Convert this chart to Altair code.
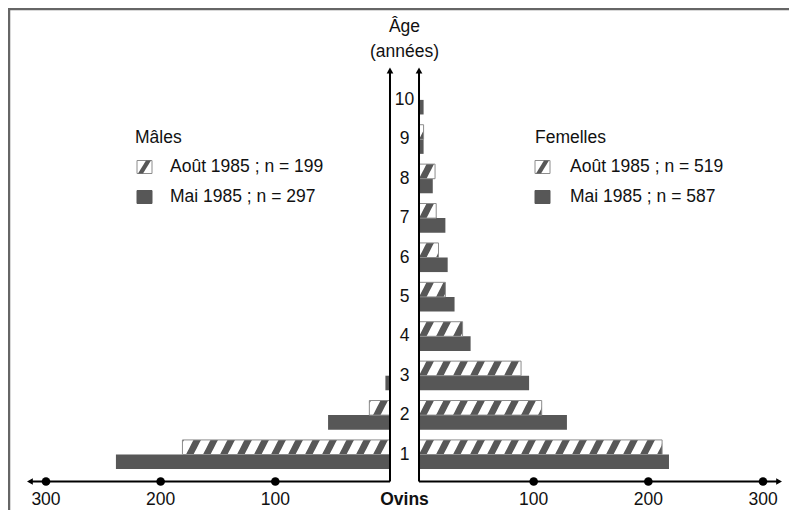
import altair as alt
import numpy as np
import pandas as pd

# ---------------- data ----------------
ages = [1, 2, 3, 4, 5, 6, 7, 8, 9, 10]
male_aout = [181, 18, 0, 0, 0, 0, 0, 0, 0, 0]
male_mai = [239, 54, 4, 0, 0, 0, 0, 0, 0, 0]
female_aout = [212, 107, 89, 38, 23, 17, 15, 14, 4, 0]
female_mai = [218, 129, 96, 45, 31, 25, 23, 12, 4, 4]
tick_values = [100, 200, 300]
side_titles = ["Mâles", "Femelles"]
legend_male = ["Août 1985 ; n = 199", "Mai 1985 ; n = 297"]
legend_female = ["Août 1985 ; n = 519", "Mai 1985 ; n = 587"]
axis_title = ["Âge", "(années)"]
x_title = "Ovins"

# ---------------- layout / style ----------------
W, H = 781, 502
KX = 1.1467      # px per sheep
KY = 39.4        # px per age step
X0 = 396.5       # svg px of centre line
Y1 = 446.5       # svg px of age 1
GAP = 12.65      # half gap between the two vertical axes (sheep units)
BAR_H = 0.37     # bar thickness (age units)
AX_END = 314     # length of the horizontal axes (sheep units)
Y_AXIS = 1 + (Y1 - 473.5) / KY
Y_ARROW = 1 + (Y1 - 62.5) / KY
Y_LAB = 1 + (Y1 - 496.5) / KY

XMIN = -X0 / KX
XMAX = (W - X0) / KX
YMAX = 1 + Y1 / KY
YMIN = 1 - (H - Y1) / KY

DARK = "#575757"
FONT = "Liberation Sans"

xs = alt.Scale(domain=[XMIN, XMAX], nice=False, zero=False)
ys = alt.Scale(domain=[YMIN, YMAX], nice=False, zero=False)

# ---------------- bars ----------------
bar_rows = []
for side, aout, mai in (("m", male_aout, male_mai), ("f", female_aout, female_mai)):
    sgn = -1 if side == "m" else 1
    for a, va, vm in zip(ages, aout, mai):
        for ser, v, y0, y1 in (("aout", va, a, a + BAR_H), ("mai", vm, a - BAR_H, a)):
            if v > 0:
                bar_rows.append(dict(side=side, age=a, serie=ser, value=v,
                                     x0=sgn * GAP, x1=sgn * (GAP + v), y0=y0, y1=y1))
bars = pd.DataFrame(bar_rows)

# hatch stripes derived from the Août bars
P_u = 17 / KX
W_u = 7.5 / KX
S_u = 7.5 / KX
stripe_rows = []
sid = 0
for r in bar_rows:
    if r["serie"] != "aout":
        continue
    lo, hi = min(r["x0"], r["x1"]), max(r["x0"], r["x1"])
    anchor = lo if r["side"] == "f" else hi
    kmin = int(np.floor((lo - S_u - W_u - anchor) / P_u))
    kmax = int(np.ceil((hi - anchor) / P_u))
    for k in range(kmin, kmax + 1):
        b = anchor + k * P_u
        if b + W_u + S_u < lo or b > hi:
            continue
        for t in np.linspace(0, 1, 6):
            xa = min(max(b + S_u * t, lo), hi)
            xb = min(max(b + W_u + S_u * t, lo), hi)
            stripe_rows.append(dict(sid=sid, y=r["y0"] + BAR_H * t, xa=xa, xb=xb))
        sid += 1
stripes = pd.DataFrame(stripe_rows)

base = alt.Chart(bars)

mai_layer = base.transform_filter("datum.serie == 'mai'").mark_rect(color=DARK).encode(
    x=alt.X("x0:Q", scale=xs, axis=None), x2="x1:Q",
    y=alt.Y("y0:Q", scale=ys, axis=None), y2="y1:Q")

aout_fill = base.transform_filter("datum.serie == 'aout'").mark_rect(fill="white").encode(
    x=alt.X("x0:Q", scale=xs, axis=None), x2="x1:Q",
    y=alt.Y("y0:Q", scale=ys, axis=None), y2="y1:Q")

stripe_layer = alt.Chart(stripes).mark_area(orient="horizontal", color=DARK, opacity=1).encode(
    y=alt.Y("y:Q", scale=ys, axis=None),
    x=alt.X("xa:Q", scale=xs, axis=None, stack=None), x2="xb:Q",
    detail="sid:N")

aout_edge = base.transform_filter("datum.serie == 'aout'").mark_rect(
    fill="white", fillOpacity=0, stroke="#8c8c8c", strokeWidth=1).encode(
    x=alt.X("x0:Q", scale=xs, axis=None), x2="x1:Q",
    y=alt.Y("y0:Q", scale=ys, axis=None), y2="y1:Q")

# ---------------- axes ----------------
vlines = pd.DataFrame({"x": [-GAP, GAP], "y0": [Y_AXIS] * 2, "y1": [Y_ARROW] * 2})
vline_layer = alt.Chart(vlines).mark_rule(color="black", strokeWidth=2).encode(
    x=alt.X("x:Q", scale=xs, axis=None),
    y=alt.Y("y0:Q", scale=ys, axis=None), y2="y1:Q")

hlines = pd.DataFrame({"x0": [-GAP, GAP], "x1": [-(GAP + AX_END), GAP + AX_END], "y": [Y_AXIS] * 2})
hline_layer = alt.Chart(hlines).mark_rule(color="black", strokeWidth=2).encode(
    x=alt.X("x0:Q", scale=xs, axis=None), x2="x1:Q",
    y=alt.Y("y:Q", scale=ys, axis=None))

arrows = pd.DataFrame({
    "x": [-GAP, GAP, -(GAP + AX_END), GAP + AX_END],
    "y": [Y_ARROW, Y_ARROW, Y_AXIS, Y_AXIS],
    "shape": ["triangle-up", "triangle-up", "triangle-left", "triangle-right"]})
arrow_layer = alt.Chart(arrows).mark_point(filled=True, color="black", size=45, opacity=1).encode(
    x=alt.X("x:Q", scale=xs, axis=None), y=alt.Y("y:Q", scale=ys, axis=None),
    shape=alt.Shape("shape:N", scale=None))

dots = pd.DataFrame({
    "x": [-(GAP + v) for v in tick_values] + [GAP + v for v in tick_values],
    "y": [Y_AXIS] * 6,
    "label": [str(v) for v in tick_values] * 2})
dot_layer = alt.Chart(dots).mark_point(filled=True, color="black", shape="circle", size=75, opacity=1).encode(
    x=alt.X("x:Q", scale=xs, axis=None), y=alt.Y("y:Q", scale=ys, axis=None))

tick_text = alt.Chart(dots.assign(y=Y_LAB)).mark_text(
    font=FONT, fontSize=17.5, color="#111", baseline="alphabetic", align="center").encode(
    x=alt.X("x:Q", scale=xs, axis=None), y=alt.Y("y:Q", scale=ys, axis=None), text="label:N")

ovins = alt.Chart(pd.DataFrame({"x": [0], "y": [Y_LAB], "t": [x_title]})).mark_text(
    font=FONT, fontSize=17.5, fontWeight="bold", color="#111", baseline="alphabetic", align="center").encode(
    x=alt.X("x:Q", scale=xs, axis=None), y=alt.Y("y:Q", scale=ys, axis=None), text="t:N")

age_text = alt.Chart(pd.DataFrame({"x": [0] * len(ages), "y": ages, "t": [str(a) for a in ages]})).mark_text(
    font=FONT, fontSize=17.5, color="#111", baseline="middle", align="center").encode(
    x=alt.X("x:Q", scale=xs, axis=None), y=alt.Y("y:Q", scale=ys, axis=None), text="t:N")

# ---------------- annotations (pixel positions) ----------------
titles = pd.DataFrame({"px": [X0, X0], "py": [24, 49], "t": axis_title})
title_layer = alt.Chart(titles).mark_text(
    font=FONT, fontSize=17.5, color="#111", baseline="alphabetic", align="center").encode(
    x=alt.X("px:Q", scale=None), y=alt.Y("py:Q", scale=None), text="t:N")

leg_text = pd.DataFrame({
    "px": [127, 162, 162, 527, 562, 562],
    "py": [130, 159, 189, 130, 159, 189],
    "t": [side_titles[0]] + legend_male + [side_titles[1]] + legend_female})
leg_text_layer = alt.Chart(leg_text).mark_text(
    font=FONT, fontSize=17.5, color="#111", baseline="middle", align="left").encode(
    x=alt.X("px:Q", scale=None), y=alt.Y("py:Q", scale=None), text="t:N")

sw = pd.DataFrame({
    "x0": [129, 129, 527, 527], "x1": [144, 144, 542, 542],
    "y0": [152.5, 182.5, 152.5, 182.5], "y1": [165.5, 195.5, 165.5, 195.5],
    "kind": ["aout", "mai", "aout", "mai"]})
sw_layer = alt.Chart(sw).mark_rect(strokeWidth=1).encode(
    x=alt.X("x0:Q", scale=None), x2="x1:Q", y=alt.Y("y0:Q", scale=None), y2="y1:Q",
    fill=alt.Fill("kind:N", scale=alt.Scale(domain=["aout", "mai"], range=["white", DARK]), legend=None),
    stroke=alt.Stroke("kind:N", scale=alt.Scale(domain=["aout", "mai"], range=["#8c8c8c", DARK]), legend=None))

sw_stripe_rows = []
for i, x0 in enumerate([129, 527]):
    for t in np.linspace(0, 1, 2):
        yy = 165.5 - 13 * t
        sw_stripe_rows.append(dict(sid=i, py=yy, xa=x0 + 1 + 8 * t, xb=x0 + 6 + 8 * t))
sw_stripe = alt.Chart(pd.DataFrame(sw_stripe_rows)).mark_area(orient="horizontal", color=DARK, opacity=1).encode(
    y=alt.Y("py:Q", scale=None), x=alt.X("xa:Q", scale=None, stack=None), x2="xb:Q", detail="sid:N")

frame = pd.DataFrame({"x0": [0, 1], "x1": [W, 1], "y0": [1, 0], "y1": [1, H]})
frame_layer = alt.Chart(frame).mark_rule(color="#666", strokeWidth=2.5).encode(
    x=alt.X("x0:Q", scale=None), x2="x1:Q", y=alt.Y("y0:Q", scale=None), y2="y1:Q")

chart = alt.layer(
    frame_layer, mai_layer, aout_fill, stripe_layer, aout_edge,
    vline_layer, hline_layer, arrow_layer, dot_layer,
    tick_text, ovins, age_text, title_layer,
    sw_layer, sw_stripe, leg_text_layer
).properties(
    width=W, height=H, padding=0,
    autosize=alt.AutoSizeParams(type="none"),
    background="white"
).configure_view(stroke=None)

chart.save("out.html", embed_options={"renderer": "svg", "actions": False})
